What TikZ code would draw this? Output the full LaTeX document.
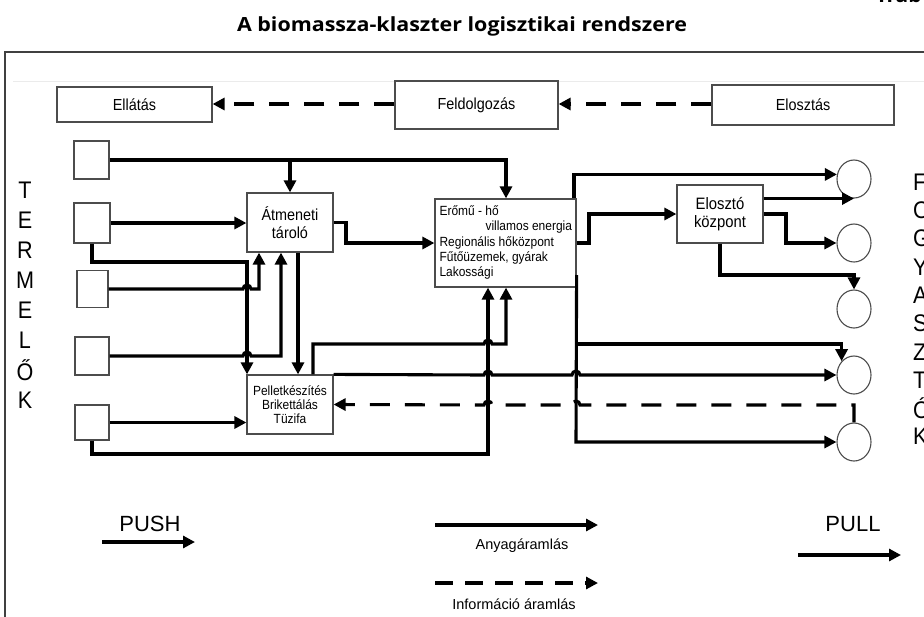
\documentclass[tikz,border=0pt]{standalone}
\usepackage{fontspec}
\setmainfont{Liberation Sans}
\newfontfamily\dfont[FakeStretch=0.9]{Liberation Sans}
\newfontfamily\tfont[FakeStretch=1.1]{Open Sans}
\usetikzlibrary{arrows.meta,shapes.geometric}
\newcommand{\fs}[1]{\fontsize{#1}{#1}\selectfont}
\tikzset{
  box/.style={draw=black!70, line width=1.2pt, fill=white, inner sep=0pt, align=center},
  tip/.style={-{Triangle[length=12pt,width=12pt]}},
  flow/.style={line width=3.1pt, tip},
  info/.style={line width=3.1pt, dash pattern=on 20pt off 15pt, tip},
  circ/.style={draw=black!70, line width=1.1pt, ellipse, minimum width=34pt, minimum height=38pt, inner sep=0pt},
  bigletter/.style={font=\dfont\fs{24}},
}
\begin{document}
\begin{tikzpicture}[x=1pt,y=-1pt]
\useasboundingbox (0,0) rectangle (924,616);
\fill[white] (0,0) rectangle (924,616);
% title
\node[font=\tfont\bfseries\fs{19.5}] (title) at (462,26) {A biomassza-klaszter logisztikai rendszere};
\node[font=\tfont\bfseries\fs{19}, anchor=west] (corner) at (872,-5) {Trab};
% frame
\draw[black!75, line width=1.8pt] (5,52) rectangle (940,640);
\draw[black!8, line width=0.8pt] (13,81) -- (924,81);
% top row
\node[box, minimum width=155pt, minimum height=35pt, font=\dfont\fs{16}] (ell) at (134.5,104.5) {Ellátás};
\node[box, minimum width=163pt, minimum height=48pt, font=\dfont\fs{16}] (feld) at (476.5,105) {Feldolgozás};
\node[box, minimum width=182pt, minimum height=40pt, font=\dfont\fs{16}] (elo) at (803,105) {Elosztás};
\draw[info] (elo.west |- 0,104) -- (feld.east |- 0,104);
\draw[info] (feld.west |- 0,104) -- (ell.east |- 0,104);
% producers
\node[box, minimum width=35pt, minimum height=38pt] (s1) at (91.5,160) {};
\node[box, minimum width=36pt, minimum height=40pt] (s2) at (92,223) {};
\node[box, minimum width=31pt, minimum height=37pt] (s3) at (92.5,289) {};
\node[box, minimum width=34pt, minimum height=38pt] (s4) at (92,356) {};
\node[box, minimum width=34pt, minimum height=35pt] (s5) at (92,422.5) {};
% process boxes
\node[box, minimum width=86pt, minimum height=59pt, font=\dfont\fs{16}] (atm) at (290,222.5) {Átmeneti\\[2pt]tároló};
\node[box, minimum width=86pt, minimum height=59pt, font=\dfont\fs{13.3}] (pel) at (290,404.5) {Pelletkészítés\\[1pt]Brikettálás\\[1pt]Tüzifa};
\node[box, minimum width=141pt, minimum height=88pt] (erm) at (505.5,243) {};
\node[box, minimum width=86pt, minimum height=58pt, font=\dfont\fs{16.5}] (elk) at (720,214) {Elosztó\\[2pt]központ};
\begin{scope}[font=\dfont\fs{13.3}]
\node[anchor=west] (t1) at (436,211) {Erőmű - hő};
\node[anchor=west] (t2) at (482,227) {villamos energia};
\node[anchor=west] (t3) at (436,243) {Regionális hőközpont};
\node[anchor=west] (t4) at (436,258) {Fűtőüzemek, gyárak};
\node[anchor=west] (t5) at (436,273) {Lakossági};
\end{scope}
% consumers
\node[circ] (c1) at (854,179) {};
\node[circ] (c2) at (854,243) {};
\node[circ] (c3) at (854,309) {};
\node[circ] (c4) at (854,375) {};
\node[circ] (c5) at (854,442) {};
% side letters
\foreach \l [count=\i from 0] in {T,E,R,M,E,L,Ő,K}
  \node[bigletter] (L\i) at (25,190+30*\i) {\l};
\foreach \l [count=\i from 0] in {F,O,G,Y,A,S,Z,T,Ó,K}
  \node[bigletter, anchor=west, inner sep=0pt] (R\i) at (913,182+28.3*\i) {\l};
% connectors
\coordinate (j1) at (290,160);
\draw[flow] (s1.east) -- (506,160) -- (erm.north -| 506,0);
\draw[flow] (j1) -- (atm.north);
\draw[flow] (s2.east) -- (atm.west |- s2.east);
\draw[flow] (s2.south) -- (92,262) -- (247,262) -- (pel.north -| 247,0);
\draw[flow] (s3.east) -- (243,289) arc[start angle=180,end angle=0,radius=4pt] -- (259,289) -- (atm.south -| 259,0);
\draw[flow] (s4.east) -- (243,356) arc[start angle=180,end angle=0,radius=4pt] -- (281,356) -- (atm.south -| 281,0);
\draw[flow] (atm.south -| 298,0) -- (pel.north -| 298,0);
\draw[flow] (atm.east) -- (346,222.5) -- (346,243) -- (erm.west);
\draw[flow] (s5.east) -- (pel.west |- s5.east);
\draw[flow] (s5.south) -- (92,454) -- (488,454) -- (erm.south -| 488,0);
\draw[flow] (pel.north -| 313,0) -- (313,344) -- (484,344) arc[start angle=180,end angle=0,radius=4pt] -- (506,344) -- (erm.south -| 506,0);
\draw[flow] (pel.north east) -- (484,375) arc[start angle=180,end angle=0,radius=4pt] -- (572,375) arc[start angle=180,end angle=0,radius=4pt] -- (c4.west);
\draw[info] (c5.north) -- (854,405) -- (580,405) arc[start angle=0,end angle=180,radius=4pt] -- (492,405) arc[start angle=0,end angle=180,radius=4pt] -- (pel.east);
\coordinate (j2) at (576,344);
\draw[flow] (erm.east |- 0,275) -- (576,442) -- (c5.west);
\draw[flow] (j2) -- (c4.north west |- j2) -- (c4.north west);
\draw[flow] (erm.north -| 574,0) |- (c1.165);
\draw[flow] (erm.east) -- (589,243) |- (elk.west);
\draw[flow] (elk.east |- c1.south) -- (c1.south);
\draw[flow] (elk.east) -- (786,214) |- (c2.west);
\draw[flow] (elk.south) -- (720,275) -| (c3.north);
% legend
\node[font=\fs{22}] (push) at (150,524) {PUSH};
\coordinate (pa) at (102,542);
\coordinate (pb) at (195,542);
\draw[flow] (pa) -- (pb);
\coordinate (aa) at (435,525);
\coordinate (ab) at (598,525);
\draw[flow] (aa) -- (ab);
\node[font=\fs{14.5}] (anyag) at (522,546) {Anyagáramlás};
\coordinate (ia) at (435,583);
\coordinate (ib) at (598,583);
\draw[line width=3.1pt, dash pattern=on 18pt off 12pt, tip] (ia) -- (ib);
\node[font=\fs{14.5}] (infol) at (514,604) {Információ áramlás};
\node[font=\fs{22}] (pull) at (853,524) {PULL};
\coordinate (qa) at (798,555);
\coordinate (qb) at (901,555);
\draw[flow] (qa) -- (qb);
\end{tikzpicture}
\end{document}
